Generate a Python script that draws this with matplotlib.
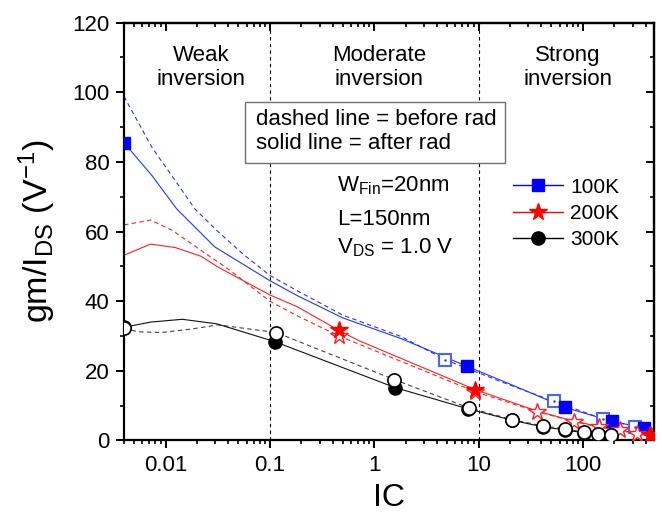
import matplotlib
matplotlib.use("Agg")
import matplotlib.pyplot as plt
from matplotlib.lines import Line2D
from matplotlib.patches import Rectangle
from matplotlib.ticker import LogLocator, NullFormatter, MultipleLocator

plt.rcParams['font.family'] = ['Liberation Sans', 'DejaVu Sans']
plt.rcParams['mathtext.default'] = 'regular'

# ---------------- data ----------------
# 100K
k100_after_line_x = [0.004, 0.0074, 0.0128, 0.0296, 0.1, 0.183, 0.5, 1.83, 7.74, 20, 67.3, 190, 388, 480]
k100_after_line_y = [85.5, 76.1, 66.5, 55.6, 45.9, 41.6, 35.2, 29.2, 21.3, 16.2, 9.5, 5.5, 3.6, 3.2]
k100_before_line_x = [0.004, 0.0074, 0.0124, 0.0191, 0.0318, 0.057, 0.1, 0.183, 0.5, 1.83, 4.8, 16, 53.2, 156, 316, 480]
k100_before_line_y = [98.8, 84.2, 74.6, 66.5, 60.0, 53.2, 47.4, 43.0, 36.0, 29.8, 23.2, 17.0, 11.2, 6.2, 4.0, 3.2]
k100_after_mk_x = [0.004, 7.74, 67.3, 190, 388]
k100_after_mk_y = [85.5, 21.3, 9.5, 5.5, 3.6]
k100_before_mk_x = [4.8, 53.2, 156, 316]
k100_before_mk_y = [23.2, 11.2, 6.2, 4.0]

# 200K
k200_after_line_x = [0.004, 0.0072, 0.0124, 0.0219, 0.0318, 0.1, 0.183, 0.46, 0.71, 9.3, 36, 81, 142, 228, 437, 480]
k200_after_line_y = [53.2, 56.4, 55.4, 52.9, 49.8, 41.8, 38.4, 31.6, 28.7, 14.6, 8.5, 5.6, 4.0, 2.9, 1.45, 1.3]
k200_before_line_x = [0.004, 0.0072, 0.0115, 0.0219, 0.0396, 0.1, 0.183, 0.46, 9.29, 36.3, 81.5, 142, 228, 330, 437, 480]
k200_before_line_y = [61.9, 63.3, 60.4, 54.6, 49.3, 40.0, 35.8, 30.0, 14.0, 8.3, 5.45, 3.85, 2.9, 1.9, 1.45, 1.3]
k200_after_mk_x = [0.46, 9.3, 437]
k200_after_mk_y = [31.6, 14.6, 1.45]
k200_before_mk_x = [0.46, 9.29, 36.3, 81.5, 142, 228, 330, 437]
k200_before_mk_y = [30.0, 14.0, 8.3, 5.45, 3.85, 2.9, 1.9, 1.45]

# 300K
k300_after_line_x = [0.004, 0.0072, 0.0145, 0.031, 0.111, 1.58, 7.9, 21, 41.5, 68, 102, 142, 187]
k300_after_line_y = [32.5, 34.0, 34.8, 33.5, 28.4, 15.2, 9.1, 5.8, 3.9, 3.0, 2.2, 1.7, 1.3]
k300_before_line_x = [0.004, 0.0055, 0.0091, 0.0177, 0.0319, 0.115, 1.55, 8.02, 20.9, 41.1, 67.6, 101.6, 141, 186]
k300_before_line_y = [32.2, 31.2, 31.0, 32.0, 33.2, 31.0, 17.5, 9.4, 6.0, 4.2, 3.35, 2.4, 1.9, 1.45]
k300_after_mk_x = [0.004, 0.111, 1.58, 7.9, 21, 41.5, 68, 102, 142, 187]
k300_after_mk_y = [32.5, 28.4, 15.2, 9.1, 5.8, 3.9, 3.0, 2.2, 1.7, 1.3]
k300_before_mk_x = [0.004, 0.115, 1.55, 8.02, 20.9, 41.1, 67.6, 101.6, 141, 186]
k300_before_mk_y = [32.2, 31.0, 17.5, 9.4, 6.0, 4.2, 3.35, 2.4, 1.9, 1.45]

legend_labels = ['100K', '200K', '300K']
region_labels = ['Weak\ninversion', 'Moderate\ninversion', 'Strong\ninversion']
region_bounds = [0.1, 10]
x_ticks = [0.01, 0.1, 1, 10, 100]
x_ticklabels = ['0.01', '0.1', '1', '10', '100']
y_ticks = [0, 20, 40, 60, 80, 100, 120]

# ---------------- figure ----------------
fig = plt.figure(figsize=(6.62, 5.15), dpi=100)
ax = fig.add_axes([0.1873, 0.1447, 0.8006, 0.8114])
ax.set_xscale('log')
ax.set_xlim(0.004, 480)
ax.set_ylim(0, 120)

blue, red, black = '#2035ff', '#ff2020', '#111111'
lw = 0.8
dash = (0, (4, 3))

ax.plot(k100_before_line_x, k100_before_line_y, color=blue, lw=lw, ls=dash, zorder=2)
ax.plot(k100_after_line_x, k100_after_line_y, color=blue, lw=lw, zorder=2)
ax.plot(k200_before_line_x, k200_before_line_y, color=red, lw=lw, ls=dash, zorder=2)
ax.plot(k200_after_line_x, k200_after_line_y, color=red, lw=lw, zorder=2)
ax.plot(k300_before_line_x, k300_before_line_y, color='#444444', lw=lw, ls=dash, zorder=2)
ax.plot(k300_after_line_x, k300_after_line_y, color=black, lw=lw, zorder=2)

# markers
ax.plot(k100_before_mk_x, k100_before_mk_y, ls='none', marker='s', ms=8.5,
        mfc='white', mec='#4a62ff', mew=1.5, zorder=4)
ax.plot(k100_before_mk_x, k100_before_mk_y, ls='none', marker='.', ms=1.5,
        color=blue, zorder=5)
ax.plot(k100_after_mk_x, k100_after_mk_y, ls='none', marker='s', ms=8.5,
        color='blue', zorder=4)

ax.plot(k200_before_mk_x, k200_before_mk_y, ls='none', marker='*', ms=13,
        mfc='white', mec=red, mew=1.0, zorder=4)
ax.plot(k200_after_mk_x, k200_after_mk_y, ls='none', marker='*', ms=13,
        color='red', zorder=5)

ax.plot(k300_after_mk_x, k300_after_mk_y, ls='none', marker='o', ms=9.5,
        color='black', zorder=3)
ax.plot(k300_before_mk_x, k300_before_mk_y, ls='none', marker='o', ms=9.5,
        mfc='white', mec='black', mew=1.2, zorder=4)

# region boundaries
for b in region_bounds:
    ax.axvline(b, color='black', lw=0.8, ls=(0, (3, 3)), zorder=1)

region_x = [0.145, 0.481, 0.838]
for xf, lab in zip(region_x, region_labels):
    ax.text(xf, 0.893, lab, transform=ax.transAxes, ha='center', va='center',
            fontsize=16, linespacing=1.15)

# box
ax.add_patch(Rectangle((0.228, 0.665), 0.491, 0.144, transform=ax.transAxes,
                       fill=True, facecolor='white', edgecolor='#707070', lw=1.0, zorder=6))
ax.text(0.249, 0.739, 'dashed line = before rad\nsolid line = after rad',
        transform=ax.transAxes, ha='left', va='center', fontsize=16,
        linespacing=1.15, zorder=7)

# device annotation
ax.text(0.402, 0.609, 'W$_{Fin}$=20nm', transform=ax.transAxes, ha='left', va='center', fontsize=16)
ax.text(0.402, 0.528, 'L=150nm', transform=ax.transAxes, ha='left', va='center', fontsize=16)
ax.text(0.402, 0.462, 'V$_{DS}$ = 1.0 V', transform=ax.transAxes, ha='left', va='center', fontsize=16)

# legend
handles = [
    Line2D([], [], color='blue', lw=1.0, marker='s', ms=8.5),
    Line2D([], [], color='red', lw=1.0, marker='*', ms=13),
    Line2D([], [], color='black', lw=1.0, marker='o', ms=9.5),
]
ax.legend(handles, legend_labels, loc='center left', bbox_to_anchor=(0.734, 0.543),
          frameon=False, fontsize=15, handlelength=2.4, handletextpad=0.35,
          labelspacing=0.35, borderpad=0, borderaxespad=0)

# axes styling
ax.set_xticks(x_ticks)
ax.set_xticklabels(x_ticklabels)
ax.xaxis.set_minor_locator(LogLocator(base=10, subs=range(2, 10), numticks=20))
ax.xaxis.set_minor_formatter(NullFormatter())
ax.set_yticks(y_ticks)
ax.yaxis.set_minor_locator(MultipleLocator(10))

for s in ax.spines.values():
    s.set_linewidth(1.6)

ax.tick_params(which='major', direction='out', length=5.5, width=1.4, labelsize=16, pad=5)
ax.tick_params(which='minor', direction='out', length=3.2, width=1.2)

# mirror ticks inward on top/right
axt = ax.secondary_xaxis('top')
axt.set_xticks(x_ticks)
axt.xaxis.set_minor_locator(LogLocator(base=10, subs=range(2, 10), numticks=20))
axt.tick_params(which='major', direction='in', length=5.5, width=1.4, labeltop=False)
axt.tick_params(which='minor', direction='in', length=3.2, width=1.2)
axt.xaxis.set_minor_formatter(NullFormatter())
axr = ax.secondary_yaxis('right')
axr.set_yticks(y_ticks)
axr.yaxis.set_minor_locator(MultipleLocator(10))
axr.tick_params(which='major', direction='in', length=5.5, width=1.4, labelright=False)
axr.tick_params(which='minor', direction='in', length=3.2, width=1.2)
for s in list(axt.spines.values()) + list(axr.spines.values()):
    s.set_linewidth(1.6)

ax.set_xlabel('IC', fontsize=23, va='baseline')
ax.xaxis.set_label_coords(0.5, -0.156)
ax.set_ylabel('gm/I$_{DS}$ (V$^{-1}$)', fontsize=24.5)
ax.yaxis.set_label_coords(-0.125, 0.5)

fig.savefig('out.png', dpi=100)
